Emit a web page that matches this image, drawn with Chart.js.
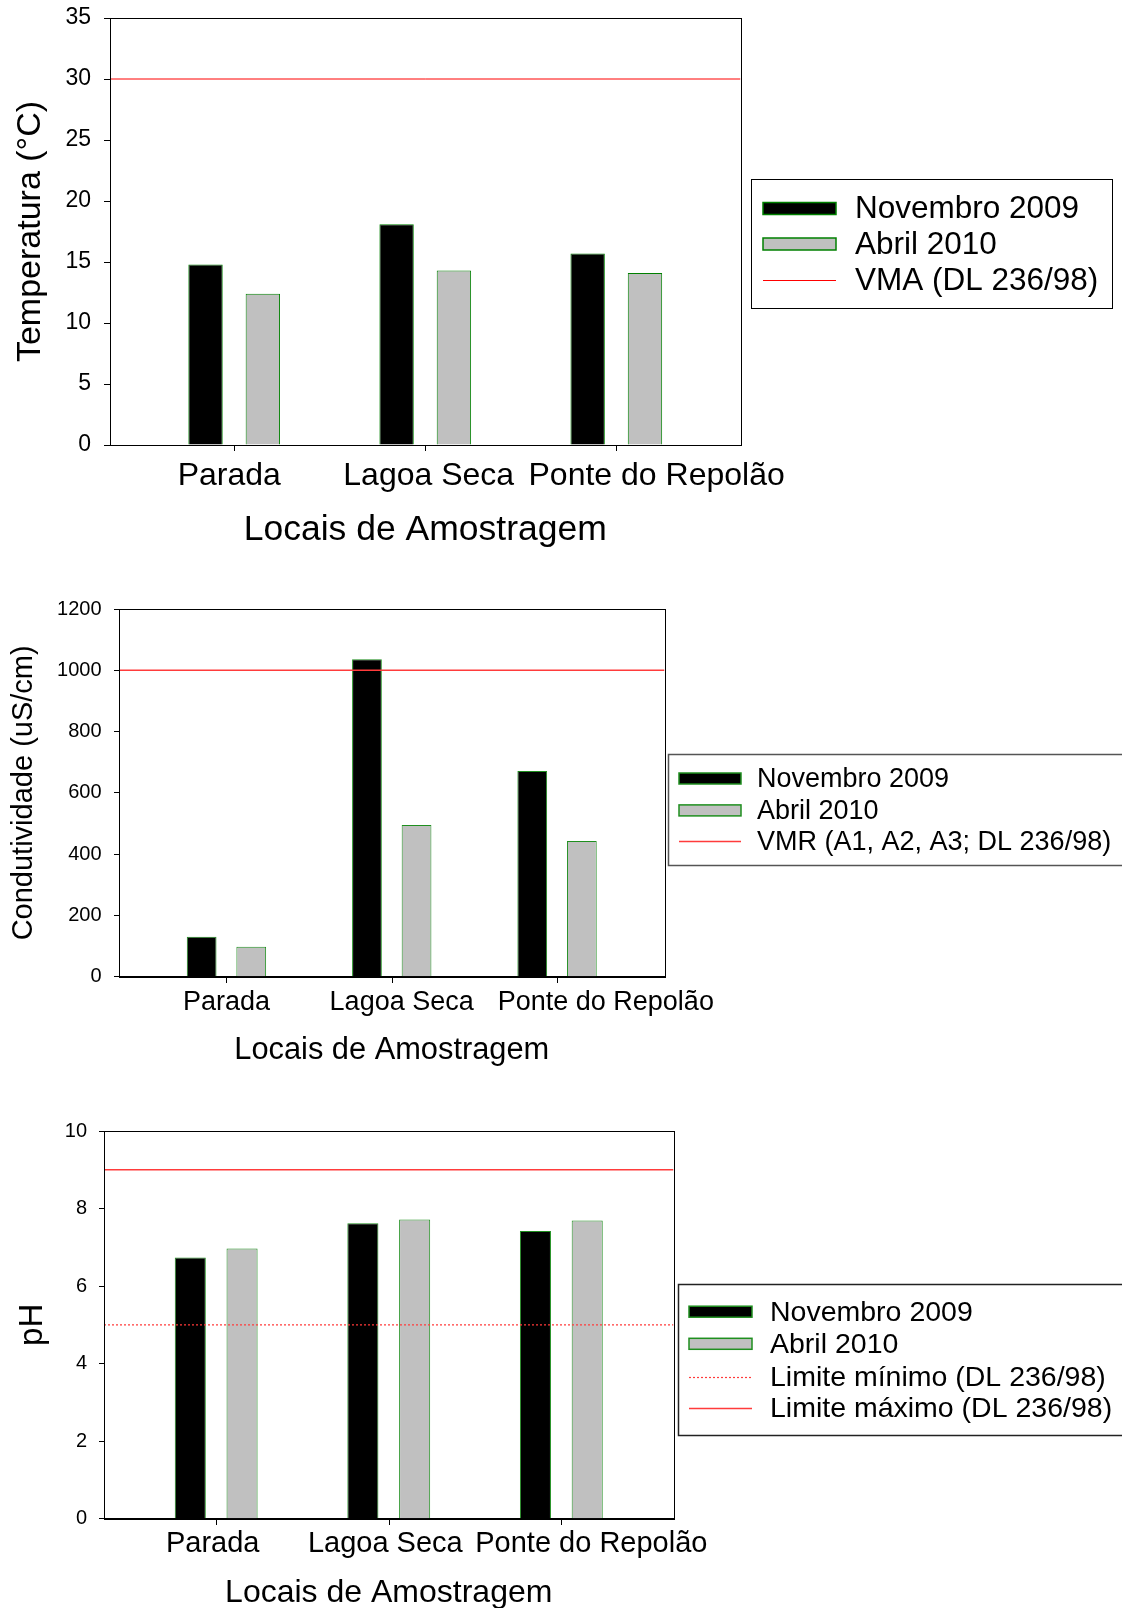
<!DOCTYPE html>
<html>
  <head>
    <meta charset="utf-8">
    <title>Temperatura, Condutividade e pH - Locais de Amostragem</title>
    <script src="https://cdn.jsdelivr.net/npm/chart.js"></script>
    <style>
      body { margin: 0; background: #fff; width: 1122px; height: 1608px; overflow: hidden; position: relative; }
      canvas { position: absolute; left: 0; }
    </style>
  </head>
  <body>

    <!-- one canvas per panel -->
    <canvas id="tempChart" width="1122" height="560" style="top:0px"></canvas>
    <canvas id="condChart" width="1122" height="490" style="top:590px"></canvas>
    <canvas id="phChart" width="1122" height="512" style="top:1100px"></canvas>

    <script>
      // Sampling sites and campaigns
      const locais = ['Parada', 'Lagoa Seca', 'Ponte do Repolão'];
      const campanhas = ['Novembro 2009', 'Abril 2010'];

      // Temperatura (°C)
      const tempNov = [14.8, 18.1, 15.7];
      const tempAbr = [12.4, 14.3, 14.1];
      const tempVMA = 30;
      const tempTicks = [0, 5, 10, 15, 20, 25, 30, 35];

      // Condutividade (uS/cm)
      const condNov = [130, 1036, 671];
      const condAbr = [98, 495, 443];
      const condVMR = 1000;
      const condTicks = [0, 200, 400, 600, 800, 1000, 1200];

      // pH
      const phNov = [6.74, 7.62, 7.42];
      const phAbr = [6.97, 7.72, 7.69];
      const phMin = 5;
      const phMax = 9;
      const phTicks = [0, 2, 4, 6, 8, 10];

      const FONT = '"Liberation Sans", Arial, Helvetica, sans-serif';
      Chart.defaults.font.family = FONT;
      Chart.defaults.color = '#000';
      Chart.defaults.animation = false;

      // x range of the plot frame around the three sites (sites sit at 1, 2, 3)
      const X_MIN = 0.35, X_MAX = 3.65;

      // draws the closed frame and the little tick marks under each site
      const frame = {
        id: 'frame',
        afterDraw(chart) {
          const a = chart.chartArea, ctx = chart.ctx;
          const xs = chart.scales.x;
          ctx.save();
          ctx.strokeStyle = '#000';
          ctx.lineWidth = 1;
          ctx.strokeRect(Math.round(a.left) + 0.5, Math.round(a.top) + 0.5,
                         Math.round(a.right - a.left), Math.round(a.bottom - a.top));
          locais.forEach((c, i) => {
            const px = Math.round(xs.getPixelForValue(i + 1)) + 0.5;
            ctx.beginPath();
            ctx.moveTo(px, Math.round(a.bottom));
            ctx.lineTo(px, Math.round(a.bottom) + 6);
            ctx.stroke();
          });
          ctx.restore();
        }
      };

      // boxed legend beside the plot, built from the datasets
      const boxLegend = {
        id: 'boxLegend',
        afterDraw(chart, args, o) {
          const ctx = chart.ctx;
          ctx.save();
          ctx.strokeStyle = o.borderColor;
          ctx.lineWidth = o.borderWidth;
          ctx.strokeRect(o.left + 0.5, o.top + 0.5, o.width, o.height);
          ctx.font = o.fontSize + 'px ' + FONT;
          ctx.textBaseline = 'middle';
          ctx.textAlign = 'left';
          chart.data.datasets.forEach((ds, i) => {
            const y = o.rows[i];
            if (ds.type === 'line') {
              ctx.strokeStyle = ds.borderColor;
              ctx.lineWidth = ds.borderWidth;
              ctx.setLineDash(ds.borderDash || []);
              ctx.beginPath();
              ctx.moveTo(o.swatchX, Math.round(y) + 0.5);
              ctx.lineTo(o.swatchX + o.swatchW, Math.round(y) + 0.5);
              ctx.stroke();
              ctx.setLineDash([]);
            } else {
              ctx.fillStyle = ds.backgroundColor;
              ctx.fillRect(o.swatchX, y - o.swatchH / 2, o.swatchW, o.swatchH);
              ctx.strokeStyle = ds.borderColor;
              ctx.lineWidth = 1.5;
              ctx.strokeRect(o.swatchX, y - o.swatchH / 2, o.swatchW, o.swatchH);
            }
            ctx.fillStyle = '#000';
            ctx.fillText(ds.label, o.textX, y + 1);
          });
          ctx.restore();
        }
      };

      function barSet(label, values, fill, edge) {
        return {
          type: 'bar',
          label: label,
          data: values.map((v, i) => ({ x: i + 1, y: v })),
          backgroundColor: fill,
          borderColor: edge,
          borderWidth: 1,
          borderSkipped: 'start',
          categoryPercentage: 0.6,
          barPercentage: 0.6,
          order: 2
        };
      }

      function limitSet(label, value, color, width, dash) {
        return {
          type: 'line',
          label: label,
          data: [{ x: X_MIN, y: value }, { x: X_MAX, y: value }],
          borderColor: color,
          borderWidth: width,
          borderDash: dash || [],
          pointRadius: 0,
          fill: false,
          order: 1
        };
      }

      function makeChart(id, s) {
        return new Chart(document.getElementById(id), {
          type: 'bar',
          data: { datasets: s.datasets },
          options: {
            responsive: false,
            events: [],
            layout: { padding: { top: s.top, right: s.right, left: 0, bottom: 0 } },
            plugins: {
              legend: { display: false },
              tooltip: { enabled: false },
              boxLegend: s.legend
            },
            scales: {
              x: {
                type: 'linear',
                min: X_MIN,
                max: X_MAX,
                offset: false,
                afterBuildTicks: (sc) => { sc.ticks = locais.map((c, i) => ({ value: i + 1 + s.nudge[i] })); },
                afterFit: (sc) => { sc.height = s.xHeight; sc.paddingLeft = 0; sc.paddingRight = 0; },
                grid: { display: false, drawTicks: false, offset: false },
                border: { display: true, color: '#000', width: 1 },
                ticks: {
                  autoSkip: false, maxRotation: 0, minRotation: 0,
                  padding: s.xPad,
                  font: { size: s.xFont },
                  callback: (v, i) => locais[i]
                },
                title: {
                  display: true,
                  text: 'Locais de Amostragem',
                  font: { size: s.xTitleFont },
                  padding: { top: 0, bottom: s.xTitlePad }
                }
              },
              y: {
                min: s.ticks[0],
                max: s.ticks[s.ticks.length - 1],
                afterBuildTicks: (sc) => { sc.ticks = s.ticks.map(v => ({ value: v })); },
                afterFit: (sc) => { sc.width = s.yWidth; sc.paddingTop = 0; sc.paddingBottom = 0; },
                grid: { drawOnChartArea: false, drawTicks: true, tickLength: s.tickLen, color: '#000', lineWidth: 1 },
                border: { display: true, color: '#000', width: 1 },
                ticks: { padding: s.yPad, font: { size: s.yFont }, callback: v => String(v) },
                title: {
                  display: true,
                  text: s.yTitle,
                  font: { size: s.yTitleFont },
                  padding: { top: s.yTitlePad, bottom: 0 }
                }
              }
            }
          },
          plugins: [frame, boxLegend]
        });
      }

      // Temperatura
      makeChart('tempChart', {
        datasets: [
          barSet(campanhas[0], tempNov, '#000000', '#008000'),
          barSet(campanhas[1], tempAbr, '#c0c0c0', '#008000'),
          limitSet('VMA (DL 236/98)', tempVMA, '#ff0000', 1)
        ],
        ticks: tempTicks,
        yTitle: 'Temperatura (°C)',
        top: 18, right: 381.5, yWidth: 110, xHeight: 115,
        tickLen: 6, yPad: 13, yFont: 23, yTitleFont: 34, yTitlePad: 10,
        xFont: 32, xPad: 12, xTitleFont: 35.5, xTitlePad: 8,
        nudge: [-0.026, 0.018, 0.211],
        legend: {
          left: 751, top: 179, width: 361, height: 129,
          borderColor: '#000', borderWidth: 1,
          swatchX: 763, swatchW: 73, swatchH: 12, textX: 855,
          rows: [208.5, 244, 280], fontSize: 31.5
        }
      });

      // Condutividade
      makeChart('condChart', {
        datasets: [
          barSet(campanhas[0], condNov, '#000000', '#1f8f1f'),
          barSet(campanhas[1], condAbr, '#c0c0c0', '#1f8f1f'),
          limitSet('VMR (A1, A2, A3; DL 236/98)', condVMR, '#ff3b3b', 1.6)
        ],
        ticks: condTicks,
        yTitle: 'Condutividade (uS/cm)',
        top: 19, right: 457.5, yWidth: 119, xHeight: 103.3,
        tickLen: 5, yPad: 12.5, yFont: 20, yTitleFont: 29, yTitlePad: 7,
        xFont: 27, xPad: 9.5, xTitleFont: 30.8, xTitlePad: 11,
        nudge: [0, 0.06, 0.295],
        legend: {
          left: 668, top: 164, width: 520, height: 111,
          borderColor: '#555', borderWidth: 1.5,
          swatchX: 679, swatchW: 62, swatchH: 11, textX: 757,
          rows: [188.5, 220.4, 251.2], fontSize: 27
        }
      });

      // pH
      makeChart('phChart', {
        datasets: [
          barSet(campanhas[0], phNov, '#000000', '#1f8f1f'),
          barSet(campanhas[1], phAbr, '#c0c0c0', '#1f8f1f'),
          limitSet('Limite mínimo (DL 236/98)', phMin, '#ff3b3b', 1.2, [2, 2]),
          limitSet('Limite máximo (DL 236/98)', phMax, '#ff3b3b', 1.6)
        ],
        ticks: phTicks,
        yTitle: 'pH',
        top: 31, right: 448.5, yWidth: 104, xHeight: 93.3,
        tickLen: 5, yPad: 12, yFont: 20, yTitleFont: 33, yTitlePad: 13,
        xFont: 29, xPad: 8, xTitleFont: 32, xTitlePad: 0,
        nudge: [-0.02, -0.02, 0.174],
        legend: {
          left: 678, top: 184, width: 520, height: 151,
          borderColor: '#222', borderWidth: 1.5,
          swatchX: 689, swatchW: 63, swatchH: 11, textX: 770,
          rows: [211.7, 243.8, 277.3, 308.3], fontSize: 28.5
        }
      });
    </script>
  </body>
</html>
